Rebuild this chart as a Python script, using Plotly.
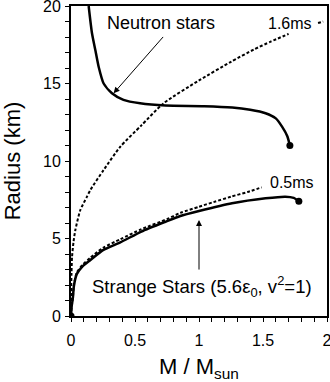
import plotly.graph_objects as go

# neutron star branch (solid)
ns_mass = [0.138, 0.164, 0.19, 0.216, 0.255, 0.32, 0.41, 0.54, 0.74, 1.04, 1.26, 1.40, 1.52, 1.60, 1.65, 1.69, 1.71]
ns_radius = [20.0, 18.24, 17.16, 16.08, 15.0, 14.37, 13.94, 13.72, 13.58, 13.54, 13.45, 13.3, 13.08, 12.75, 12.2, 11.6, 11.0]

# strange star branch (solid)
ss_mass = [0, 0.005, 0.015, 0.022, 0.045, 0.09, 0.15, 0.25, 0.385, 0.55, 0.737, 0.854, 1.0, 1.258, 1.52, 1.674, 1.74, 1.78]
ss_radius = [0, 0.6, 1.2, 1.9, 2.7, 3.2, 3.6, 4.25, 4.75, 5.45, 6.08, 6.45, 6.77, 7.27, 7.59, 7.7, 7.62, 7.4]

# rotation limits (dotted)
p05_mass = [0, 0.005, 0.015, 0.022, 0.045, 0.09, 0.15, 0.25, 0.385, 0.55, 0.75, 0.854, 1.0, 1.114, 1.25, 1.38, 1.49]
p05_radius = [0, 0.6, 1.2, 1.95, 2.8, 3.3, 3.75, 4.4, 4.95, 5.6, 6.25, 6.65, 7.05, 7.35, 7.7, 8.0, 8.3]

p16_mass = [0, 0.001, 0.004, 0.008, 0.02, 0.034, 0.073, 0.125, 0.151, 0.255, 0.385, 0.55, 0.723, 1.0, 1.25, 1.43, 1.56, 1.70, None, 1.93, 1.97]
p16_radius = [0, 1.5, 2.8, 3.8, 4.8, 5.55, 6.84, 7.7, 8.13, 9.42, 10.92, 12.3, 13.72, 15.2, 16.4, 17.2, 17.7, 18.2, None, 18.9, 19.0]

end_mass = [0, 1.71, 1.78]
end_radius = [0, 11.0, 7.4]

x_ticks = [0, 0.5, 1, 1.5, 2]
x_labels = ["0", "0.5", "1", "1.5", "2"]
y_ticks = [0, 5, 10, 15, 20]
y_labels = ["0", "5", "10", "15", "20"]

FONT = "Arial, Liberation Sans, sans-serif"

fig = go.Figure()
for m, r, dash, w in [(ns_mass, ns_radius, "solid", 2.5),
                      (ss_mass, ss_radius, "solid", 2.5),
                      (p05_mass, p05_radius, "3px,2px", 2),
                      (p16_mass, p16_radius, "3px,2px", 2)]:
    fig.add_trace(go.Scatter(x=m, y=r, mode="lines",
                             line=dict(color="black", width=w, dash=dash, shape="spline", smoothing=0.6),
                             showlegend=False, hoverinfo="skip"))
fig.add_trace(go.Scatter(x=end_mass, y=end_radius, mode="markers",
                         marker=dict(color="black", size=7), showlegend=False))

fig.add_annotation(x=0.70, y=18.9, text="Neutron stars", showarrow=False,
                   font=dict(size=18, color="black", family=FONT))
fig.add_annotation(x=0.333, y=14.37, ax=0.73, ay=18.1, axref="x", ayref="y",
                   text="", showarrow=True, arrowhead=2, arrowsize=1.2, arrowwidth=1, arrowcolor="black")
fig.add_annotation(x=1.71, y=18.84, text="1.6ms", showarrow=False,
                   font=dict(size=16, color="black", family=FONT))
fig.add_annotation(x=1.73, y=8.6, text="0.5ms", showarrow=False,
                   font=dict(size=16, color="black", family=FONT))
fig.add_annotation(x=1.027, y=1.9, text="Strange Stars (5.6ε<sub>0</sub>, v<sup>2</sup>=1)", showarrow=False,
                   font=dict(size=18.5, color="black", family=FONT))
fig.add_annotation(x=1.0, y=6.2, ax=1.0, ay=2.9, axref="x", ayref="y",
                   text="", showarrow=True, arrowhead=2, arrowsize=1.2, arrowwidth=1, arrowcolor="black")

axis_common = dict(showline=True, linecolor="black", linewidth=2, mirror=True, automargin=False,
                   ticks="outside", ticklen=4, tickcolor="black", showgrid=False, zeroline=False,
                   ticklabeloverflow="allow",
                   tickfont=dict(size=16, color="black", family=FONT))
fig.update_xaxes(range=[0, 2], tickvals=x_ticks, ticktext=x_labels,
                 minor=dict(dtick=0.1, ticks="outside", ticklen=4, tickcolor="black"),
                 title=dict(text="M / M<sub>sun</sub>", font=dict(size=22, color="black", family=FONT), standoff=12),
                 ticklabelstandoff=5, **axis_common)
fig.update_yaxes(range=[0, 20], tickvals=y_ticks, ticktext=y_labels,
                 minor=dict(dtick=1, ticks="outside", ticklen=4, tickcolor="black"),
                 title=dict(text="Radius (km)", font=dict(size=22, color="black", family=FONT), standoff=18),
                 ticklabelstandoff=1, **axis_common)
fig.update_layout(width=330, height=382, margin=dict(l=71, r=3, t=6, b=66),
                  plot_bgcolor="white", paper_bgcolor="white", font=dict(family=FONT))
fig.write_html("out.html", config={"displayModeBar": False},
               post_script="document.body.style.margin='0px';document.body.style.overflow='hidden';")
